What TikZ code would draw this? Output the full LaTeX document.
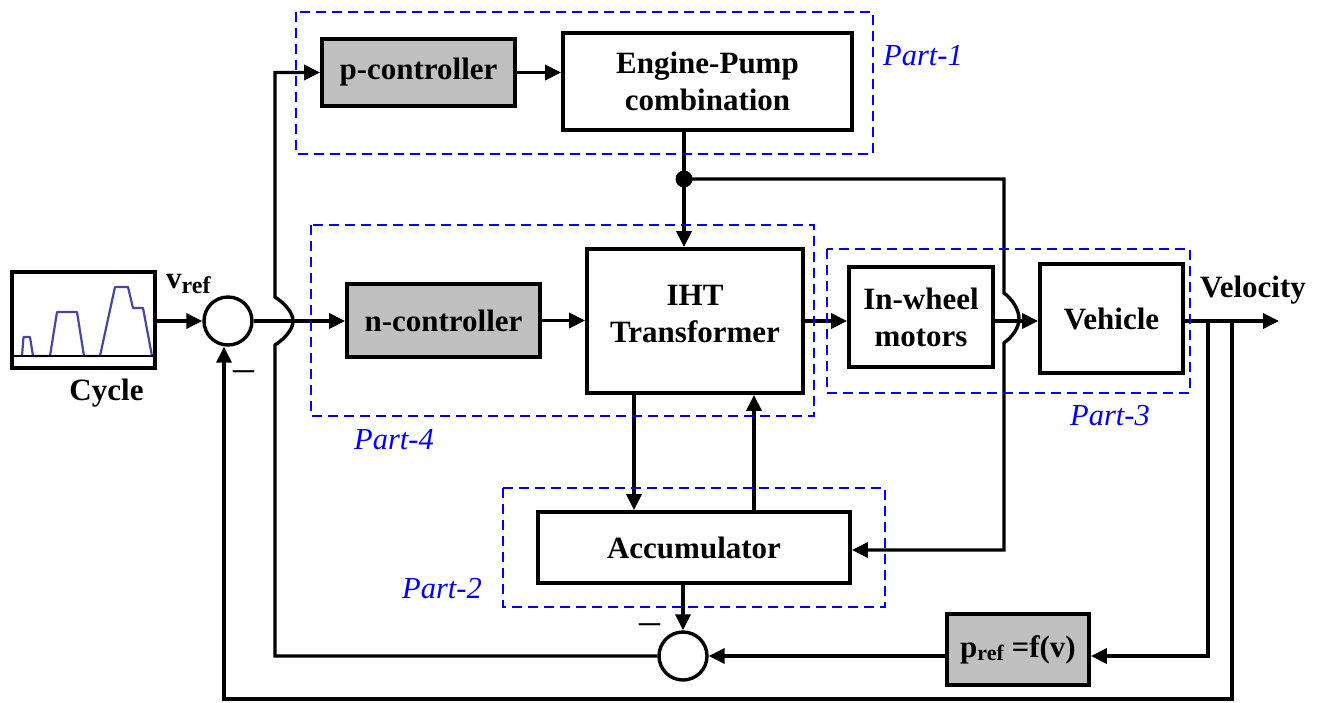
\documentclass[tikz,border=0pt]{standalone}
\usepackage{fontspec}
\setmainfont{Liberation Serif}
\usetikzlibrary{arrows.meta,calc}
\definecolor{boxgray}{RGB}{192,192,192}
\definecolor{partblue}{RGB}{0,0,255}
\definecolor{plotblue}{RGB}{70,70,170}
\begin{document}
\begin{tikzpicture}[x=1pt,y=-1pt,
  blk/.style={draw=black,line width=3.8pt,inner sep=0pt,align=center,font=\fontsize{31}{37}\selectfont\bfseries},
  gblk/.style={blk,fill=boxgray},
  conn/.style={line width=3.4pt,line join=miter},
  arr/.style={conn,-{Triangle[length=16pt,width=15pt]}},
  part/.style={draw=partblue,line width=1.7pt,dash pattern=on 10pt off 6pt},
  plabel/.style={text=partblue,font=\fontsize{30.5}{36}\selectfont\itshape,inner sep=0pt,anchor=base west},
  tlabel/.style={inner sep=0pt,font=\fontsize{31}{37}\selectfont\bfseries},
  sumnode/.style={circle,draw,line width=3.4pt,minimum size=48pt,inner sep=0pt},
  minus/.style={inner sep=0pt,anchor=base,font=\fontsize{42}{42}\selectfont}]
\useasboundingbox (0,0) rectangle (1324,702);

% cycle box with plot
\node[draw,line width=3.8pt,minimum width=143pt,minimum height=96pt,inner sep=0pt] (cyc) at (83.5,320) {};
\draw[plotblue,line width=2.2pt,line join=round] (22,356) -- (23.5,337) -- (30,337) -- (33,356) -- (50,356) -- (57,312) -- (77,312) -- (84,356) -- (100,356) -- (115,287) -- (128,287) -- (133,308) -- (143,308) -- (152,356);
\draw[line width=2.2pt] (12,356) -- (155,356);
\node[tlabel,anchor=base] (cyclab) at (106.5,400) {Cycle};
\node[tlabel,anchor=base west] (vref) at (166,288) {v\raisebox{-5pt}{\fontsize{24}{24}\selectfont ref}};

% blocks
\node[gblk,minimum width=193pt,minimum height=67pt] (pc) at (418.5,72.5) {p-controller};
\node[blk,minimum width=289pt,minimum height=97pt] (ep) at (707.5,81.5) {Engine-Pump\\combination};
\node[gblk,minimum width=193pt,minimum height=73pt] (nc) at (443.5,320.5) {n-controller};
\node[blk,minimum width=216pt,minimum height=144pt] (iht) at (695,321) {IHT\\Transformer\rule[-14pt]{0pt}{0pt}};
\node[blk,minimum width=144pt,minimum height=100pt] (iw) at (921,317) {In-wheel\\motors};
\node[blk,minimum width=143pt,minimum height=109pt] (veh) at (1111.5,318.5) {Vehicle};
\node[blk,minimum width=312pt,minimum height=71pt] (acc) at (694,547.5) {Accumulator};
\node[gblk,minimum width=142pt,minimum height=71pt] (pref) at (1018,649.5) {p\raisebox{-3pt}{\fontsize{22}{22}\selectfont ref} =f(v)};

% summing junctions
\node[sumnode] (s1) at (228,321) {};
\node[sumnode] (s2) at (683,656) {};
\node[minus] (m1) at (244,381) {–};
\node[minus] (m2) at (650,634) {–};
\node[circle,fill=black,minimum size=17pt,inner sep=0pt] (dot) at (684,179) {};

% coordinates
\coordinate (j1t) at (275,297);
\coordinate (j1b) at (275,345);
\coordinate (r1) at (1004,179);
\coordinate (j2t) at (1004,293);
\coordinate (j2b) at (1004,343);
\coordinate (r2) at (1004,550);
\coordinate (x1) at (634,0);
\coordinate (x2) at (754,0);
\coordinate (b1) at (1208,321);
\coordinate (b2) at (1232,321);
\coordinate (bot2) at (1232,699);
\coordinate (bot1) at (224,699);
\coordinate (vout) at (1279,321);

% connectors
\draw[arr] (cyc.east |- s1.west) -- (s1.west);
\draw[arr] (s1.east) -- (s1.east -| nc.west);
\draw[arr] (nc.east) -- (nc.east -| iht.west);
\draw[arr] (iht.east) -- (iht.east -| iw.west);
\draw[arr] (iht.east -| iw.east) -- (iht.east -| veh.west);
\draw[arr] (iht.east -| veh.east) -- (vout);
\draw[arr] (pc.east) -- (pc.east -| ep.west);
\draw[conn] (dot |- ep.south) -- (dot.center);
\draw[arr] (dot.center) -- (dot |- iht.north);
\draw[arr] (dot.center) -- (r1) -- (j2t) .. controls (1012,299) and (1019,309) .. (1019,319) .. controls (1019,328) and (1012,337) .. (j2b) -- (r2) -- (acc.east |- r2);
\draw[arr] (iht.south -| x1) -- (acc.north -| x1);
\draw[arr] (acc.north -| x2) -- (iht.south -| x2);
\draw[arr] (acc.south -| s2) -- (s2.north);
\draw[arr] (pref.west |- s2) -- (s2.east);
\draw[arr] (b1) -- (b1 |- s2) -- (pref.east |- s2);
\draw[arr] (b2) -- (bot2) -- (bot1) -- (bot1 |- s1.south);
\draw[arr] (s2.west) -- (s2.west -| j1b) -- (j1b) .. controls (284,339) and (293,330) .. (293,321) .. controls (293,312) and (284,303) .. (j1t) -- (pc.west -| j1t) -- (pc.west);

\node[tlabel,anchor=base west] (vel) at (1200,297) {Velocity};

% dashed parts
\draw[part] (296,12) rectangle (873,154);
\draw[part] (311,225) rectangle (814,416);
\draw[part] (827,249) rectangle (1190,393);
\draw[part] (503,488) rectangle (885,607);
\node[plabel] (p1) at (883,65) {Part-1};
\node[plabel] (p4) at (354,449) {Part-4};
\node[plabel] (p3) at (1070,425) {Part-3};
\node[plabel] (p2) at (402,598) {Part-2};
\end{tikzpicture}
\end{document}
